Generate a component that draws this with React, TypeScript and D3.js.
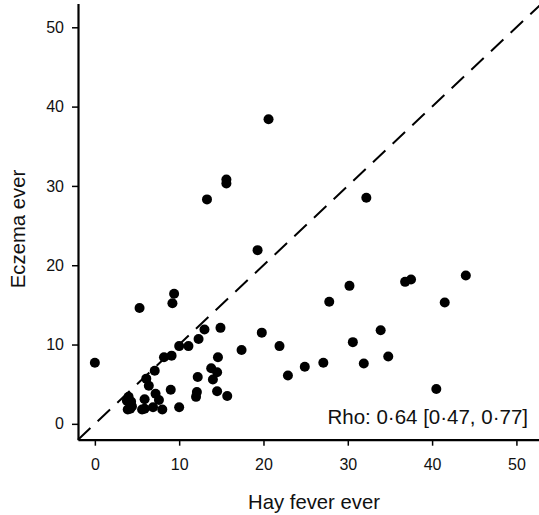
import React, { useEffect, useRef } from "react";
import * as d3 from "d3";

const hayFever = [
  0.0, 5.3, 9.2, 9.4, 13.3, 15.6, 15.6, 20.6, 19.3, 32.2,
  13.0, 14.9, 12.3, 10.0, 11.1, 19.8, 17.4, 9.1, 8.2, 14.6,
  7.1, 13.8, 14.5, 14.0, 12.2, 6.1, 6.4, 9.0, 12.1, 12.0,
  14.5, 15.7, 7.2, 5.9, 7.6, 6.9, 5.6, 5.9, 8.0, 10.0,
  4.0, 4.3, 3.8, 4.4, 3.9, 4.2, 21.9, 22.9, 24.9, 27.1,
  27.8, 30.2, 30.6, 31.9, 33.9, 34.8, 36.8, 37.5, 44.0, 41.5,
  40.5,
];
const eczema = [
  7.7, 14.6, 15.2, 16.4, 28.3, 30.8, 30.3, 38.4, 21.9, 28.5,
  11.9, 12.1, 10.7, 9.8, 9.8, 11.5, 9.3, 8.6, 8.4, 8.4,
  6.7, 7.0, 6.5, 5.6, 5.9, 5.7, 4.8, 4.3, 4.0, 3.4,
  4.1, 3.5, 3.8, 3.1, 3.0, 2.1, 1.8, 1.9, 1.8, 2.1,
  3.4, 2.8, 2.9, 2.2, 1.8, 1.9, 9.8, 6.1, 7.2, 7.7,
  15.4, 17.4, 10.3, 7.6, 11.8, 8.5, 17.9, 18.2, 18.7, 15.3,
  4.4,
];
const tickValues = [0, 10, 20, 30, 40, 50];
const xTitle = "Hay fever ever";
const yTitle = "Eczema ever";
const rhoLabel = "Rho: 0·64 [0·47, 0·77]";

const W = 539;
const H = 515;
const FONT = "'Liberation Sans', Arial, Helvetica, sans-serif";

export default function App() {
  const ref = useRef<SVGSVGElement | null>(null);

  useEffect(() => {
    const svg = d3.select(ref.current);
    svg.selectAll("*").remove();

    const x = d3.scaleLinear().domain([-2, 53]).range([78, 541.7]);
    const y = d3.scaleLinear().domain([-2, 53]).range([439.7, 3.5]);

    svg
      .append("line")
      .attr("x1", x(-2))
      .attr("y1", y(-2))
      .attr("x2", x(53))
      .attr("y2", y(53))
      .attr("stroke", "#000")
      .attr("stroke-width", 2)
      .attr("stroke-dasharray", "17,10");

    const data = hayFever.map((h, i) => ({ h, e: eczema[i] }));
    svg
      .append("g")
      .selectAll("circle")
      .data(data)
      .join("circle")
      .attr("cx", (d) => x(d.h))
      .attr("cy", (d) => y(d.e))
      .attr("r", 5)
      .attr("fill", "#000");

    const xAxis = d3
      .axisBottom(x)
      .tickValues(tickValues)
      .tickSize(6)
      .tickSizeOuter(0)
      .tickPadding(13)
      .tickFormat(d3.format("d"));
    const gx = svg.append("g").attr("transform", `translate(0,${y(-2)})`).call(xAxis);
    gx.select(".domain").attr("stroke-width", 2.2);
    gx.selectAll(".tick line").attr("stroke-width", 1.5);
    gx.selectAll(".tick text")
      .attr("font-family", FONT)
      .attr("font-size", 16)
      .attr("fill", "#111");

    const yAxis = d3
      .axisLeft(y)
      .tickValues(tickValues)
      .tickSize(6)
      .tickSizeOuter(0)
      .tickPadding(8)
      .tickFormat(d3.format("d"));
    const gy = svg.append("g").attr("transform", `translate(${x(-2)},0)`).call(yAxis);
    gy.select(".domain").attr("stroke-width", 2.2);
    gy.selectAll(".tick line").attr("stroke-width", 1.5);
    gy.selectAll(".tick text")
      .attr("font-family", FONT)
      .attr("font-size", 16)
      .attr("fill", "#111");

    svg
      .append("text")
      .attr("x", 314)
      .attr("y", 509)
      .attr("text-anchor", "middle")
      .attr("font-family", FONT)
      .attr("font-size", 20.3)
      .attr("fill", "#111")
      .text(xTitle);

    svg
      .append("text")
      .attr("transform", `translate(25,229) rotate(-90)`)
      .attr("text-anchor", "middle")
      .attr("font-family", FONT)
      .attr("font-size", 20.3)
      .attr("fill", "#111")
      .text(yTitle);

    svg
      .append("text")
      .attr("x", 528)
      .attr("y", 424)
      .attr("text-anchor", "end")
      .attr("font-family", FONT)
      .attr("font-size", 20.5)
      .attr("fill", "#111")
      .text(rhoLabel);
  }, []);

  return (
    <svg
      ref={ref}
      width={W}
      height={H}
      style={{ position: "absolute", left: 0, top: 0, background: "#fff" }}
    />
  );
}
